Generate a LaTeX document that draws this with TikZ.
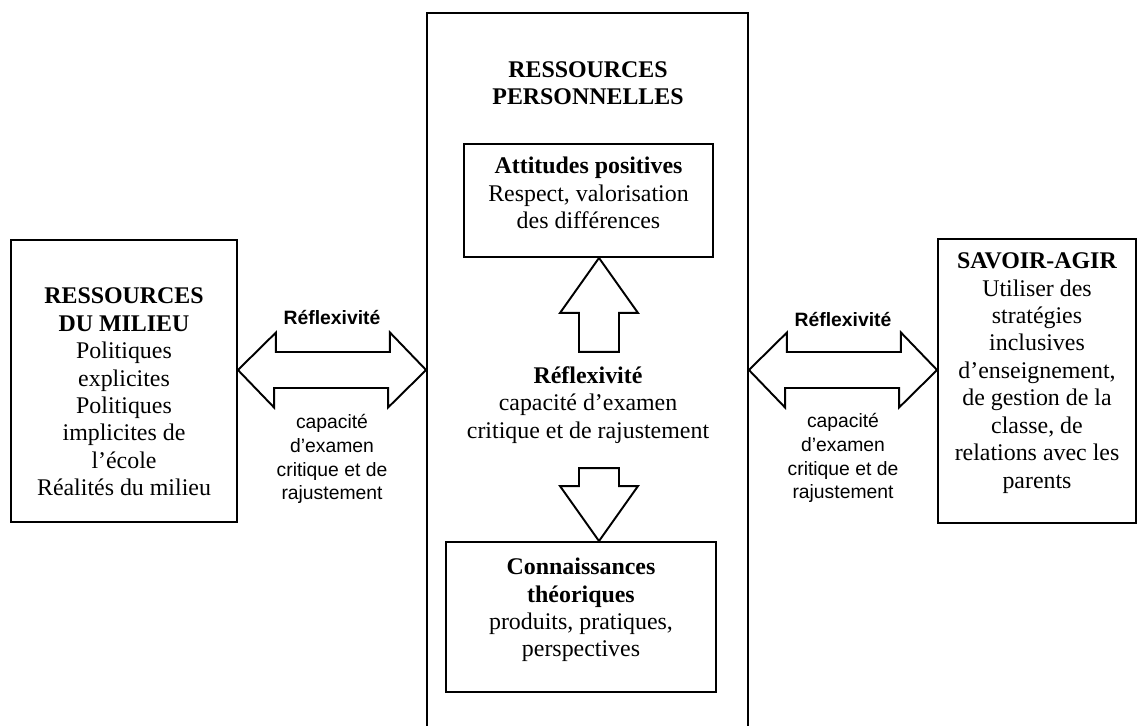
\documentclass[tikz,border=0pt]{standalone}
\usepackage{fontspec}
\setmainfont{Liberation Serif}
\setsansfont{Liberation Sans}

\begin{document}
\begin{tikzpicture}[x=0.02cm, y=-0.02cm,
  boite/.style={draw, line width=1.1pt, inner sep=0pt},
  texte/.style={align=center, inner sep=0pt, font=\fontsize{13.6}{15.6}\selectfont},
  etiquette/.style={align=center, inner sep=0pt, font=\sffamily\fontsize{11}{13.6}\selectfont},
  fleche/.style={draw, line width=1.1pt, line join=miter}]
\useasboundingbox (0,0) rectangle (1138,726);
\clip (0,0) rectangle (1138,726);
% boites
\node[boite, minimum width=4.52cm, minimum height=5.64cm] (milieu) at (124,381) {};
\node[texte] (milieuTexte) at (124,392) {\textbf{RESSOURCES}\\\textbf{DU MILIEU}\\Politiques\\explicites\\Politiques\\implicites de\\l’école\\Réalités du milieu};
\node[boite, minimum width=6.42cm, minimum height=14.94cm] (perso) at (587.5,386.5) {};
\node[texte] (persoTitre) at (588,83.5) {\textbf{RESSOURCES}\\\textbf{PERSONNELLES}};
\node[boite, minimum width=4.98cm, minimum height=2.26cm] (attitudes) at (588.5,200.5) {};
\node[texte] (attitudesTexte) at (588.5,193) {\textbf{Attitudes positives}\\Respect, valorisation\\des différences};
\node[texte] (reflexCentre) at (588,405) {\textbf{Réflexivité}\\capacité d’examen\\critique et de rajustement};
\node[boite, minimum width=5.4cm, minimum height=3cm] (connaissances) at (581,617) {};
\node[texte] (connaissancesTexte) at (581,610) {\textbf{Connaissances}\\\textbf{théoriques}\\produits, pratiques,\\perspectives};
\node[boite, minimum width=3.96cm, minimum height=5.68cm] (savoir) at (1037,381) {};
\node[texte] (savoirTexte) at (1037,373) {\textbf{SAVOIR-AGIR}\\Utiliser des\\stratégies\\inclusives\\d’enseignement,\\de gestion de la\\classe, de\\relations avec les\\parents};
% etiquettes des fleches
\node[etiquette] (reflexG) at (332,318) {\textbf{Réflexivité}};
\node[etiquette] (capaciteG) at (332,459) {capacité\\d’examen\\critique et de\\rajustement};
\node[etiquette] (reflexD) at (843,320) {\textbf{Réflexivité}};
\node[etiquette] (capaciteD) at (843,458) {capacité\\d’examen\\critique et de\\rajustement};
% fleches
\draw[fleche] (milieu.east |- 0,370) -- ++(38,-37.5) -- ++(0,19.5) -- ++(114,0) -- ++(0,-19.5) -- (perso.west |- 0,370)
  -- ++(-38,37.5) -- ++(0,-19.5) -- ++(-114,0) -- ++(0,19.5) -- cycle;
\draw[fleche] (perso.east |- 0,370) -- ++(38,-37.5) -- ++(0,19.5) -- ++(114,0) -- ++(0,-19.5) -- (savoir.west |- 0,370)
  -- ++(-38,37.5) -- ++(0,-19.5) -- ++(-114,0) -- ++(0,19.5) -- cycle;
\draw[fleche] (599,0 |- attitudes.south) -- ++(39,55) -- ++(-19,0) -- ++(0,39) -- ++(-40,0) -- ++(0,-39) -- ++(-19,0) -- cycle;
\draw[fleche] (599,0 |- connaissances.north) -- ++(39,-55) -- ++(-19,0) -- ++(0,-18) -- ++(-40,0) -- ++(0,18) -- ++(-19,0) -- cycle;
\end{tikzpicture}
\end{document}
